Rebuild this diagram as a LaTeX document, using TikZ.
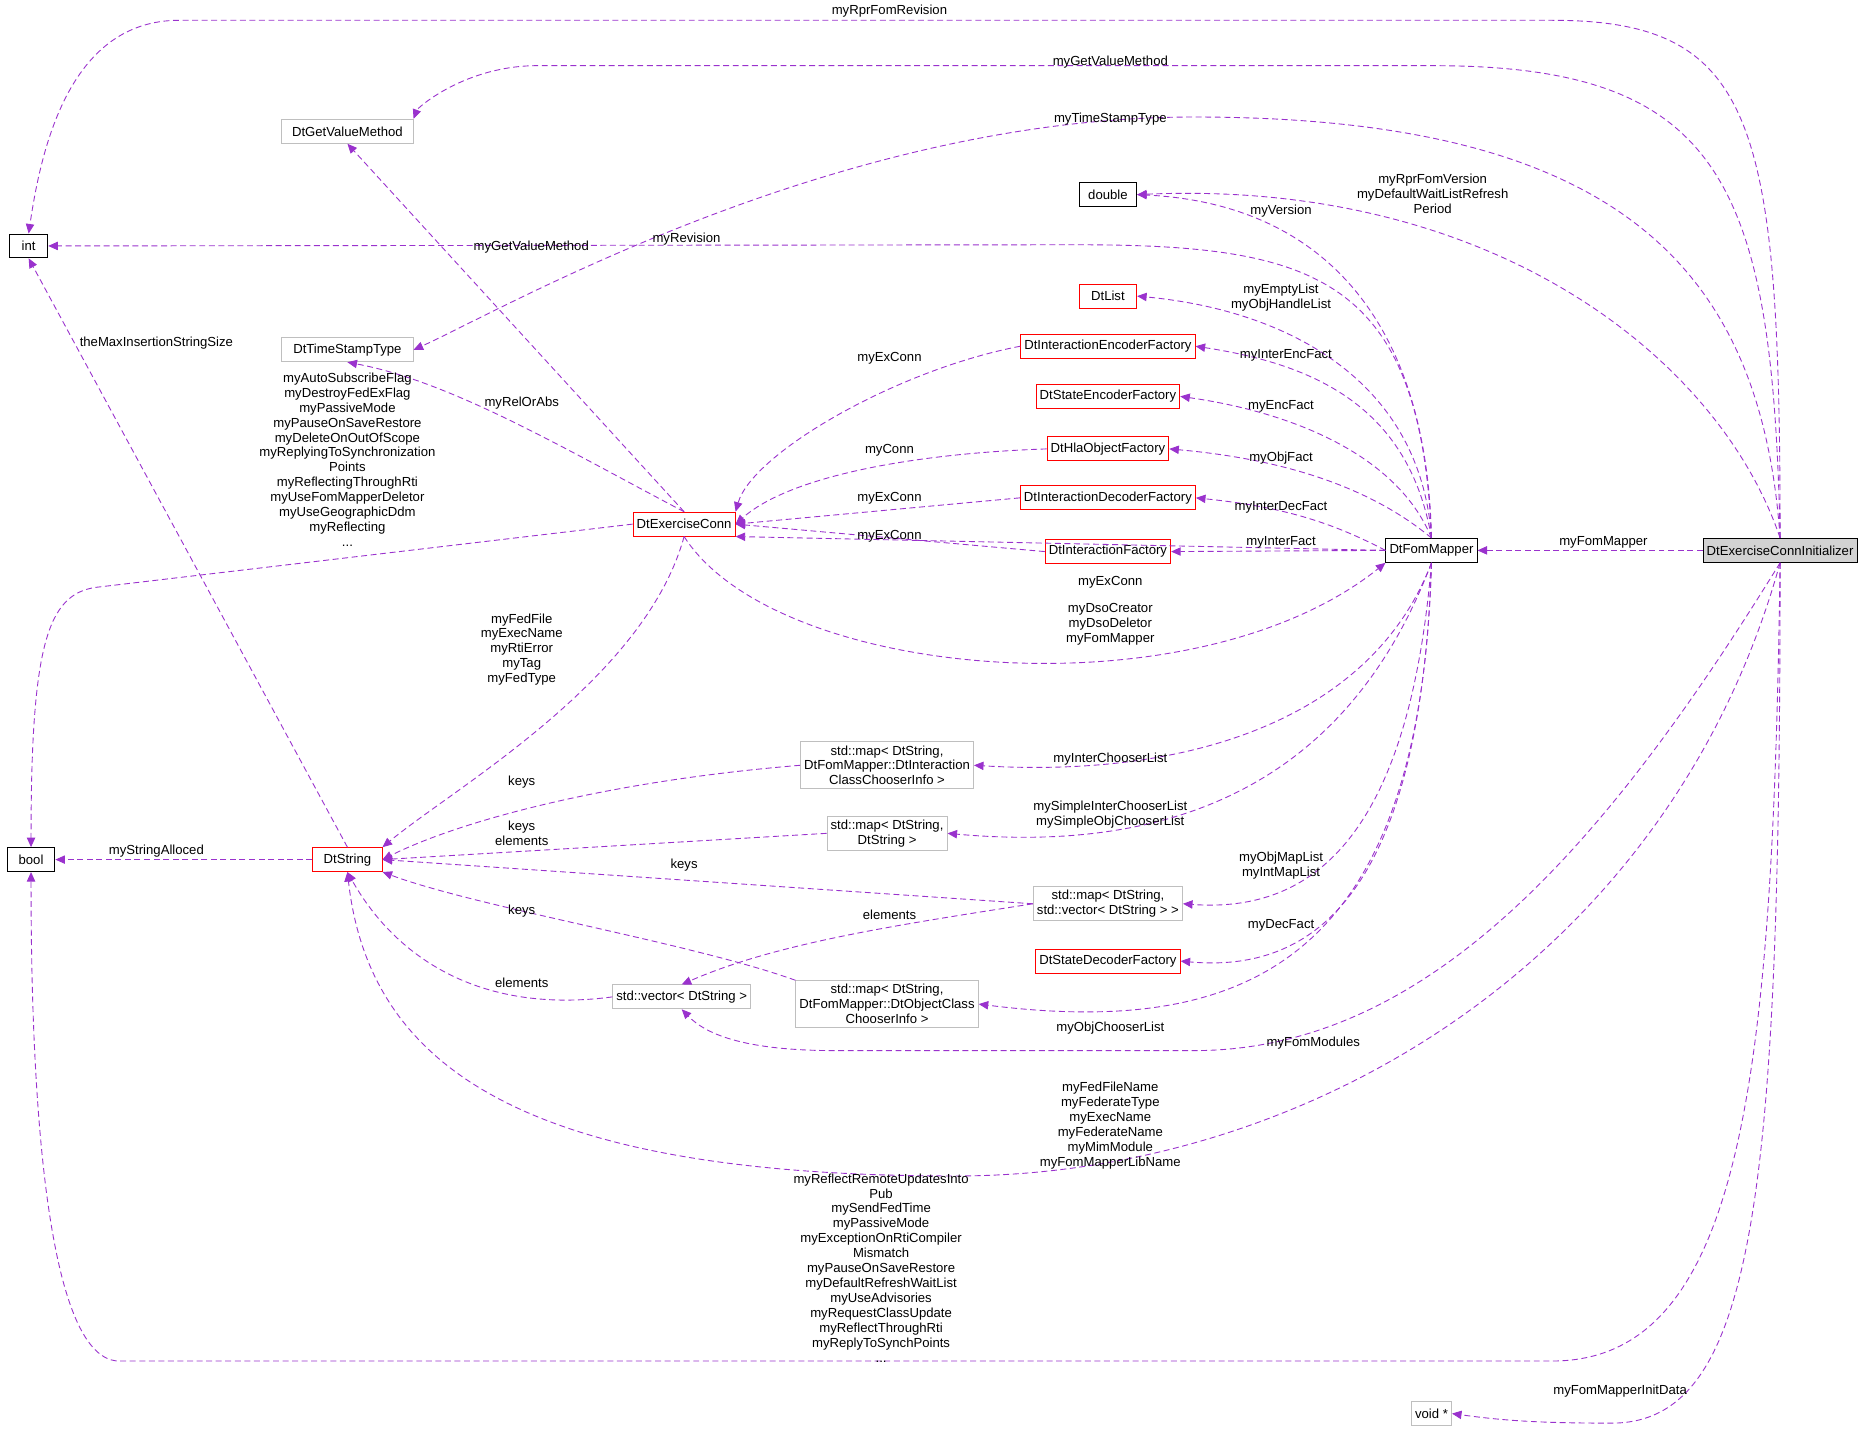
\documentclass[tikz,border=0pt]{standalone}
\usepackage{fontspec}
\setmainfont{Liberation Sans}
\usetikzlibrary{arrows.meta}
\definecolor{ed}{HTML}{9A32CD}
\definecolor{rb}{HTML}{FF0000}
\definecolor{gb}{HTML}{BFBFBF}
\begin{document}
\begin{tikzpicture}[x=1pt,y=-1pt,font=\fontsize{11}{12.5}\selectfont,
 box/.style={draw=black,fill=white,minimum height=20pt,inner sep=3pt,align=center,line width=0.8pt},
 rbox/.style={box,draw=rb},
 gbox/.style={box,draw=gb},
 lab/.style={inner sep=0pt,align=center},
 e/.style={draw=ed,line width=0.75pt,dashed,dash pattern=on 5pt off 3pt,-{Triangle[length=8pt,width=7pt]}}]
\useasboundingbox (0,0) rectangle (1568,1208);
\node[box,minimum width=32pt] (int) at (24,206) {int};
\node[box,minimum width=40pt] (bool) at (26,720) {bool};
\node[gbox,minimum width=110pt] (gvm) at (291,110) {DtGetValueMethod};
\node[box,minimum width=48pt] (dbl) at (928,163) {double};
\node[gbox,minimum width=110pt] (ts) at (291,293) {DtTimeStampType};
\node[rbox,minimum width=48pt] (dtl) at (928,248) {DtList};
\node[rbox] (ief) at (928,290) {DtInteractionEncoderFactory};
\node[rbox] (sef) at (928,332) {DtStateEncoderFactory};
\node[rbox] (hof) at (928,376) {DtHlaObjectFactory};
\node[rbox] (idf) at (928,417) {DtInteractionDecoderFactory};
\node[rbox] (iff) at (928,462) {DtInteractionFactory};
\node[rbox] (ec) at (573,439) {DtExerciseConn};
\node[box] (fm) at (1199,461) {DtFomMapper};
\node[box,fill=gb!70] (init) at (1491,461) {DtExerciseConnInitializer};
\node[gbox] (m1) at (743,641) {std::map\textless{} DtString,\\ DtFomMapper::DtInteraction\\ClassChooserInfo \textgreater{}};
\node[gbox] (m2) at (743,698) {std::map\textless{} DtString,\\ DtString \textgreater{}};
\node[gbox] (m3) at (928,757) {std::map\textless{} DtString,\\ std::vector\textless{} DtString \textgreater{} \textgreater{}};
\node[rbox] (sdf) at (928,805) {DtStateDecoderFactory};
\node[gbox] (vec) at (571,835) {std::vector\textless{} DtString \textgreater{}};
\node[gbox] (m4) at (743,841) {std::map\textless{} DtString,\\ DtFomMapper::DtObjectClass\\ChooserInfo \textgreater{}};
\node[rbox,minimum width=58pt] (str) at (291,720) {DtString};
\node[gbox] (vd) at (1199,1184) {void *};

% initializer edges
\draw[e] (init.north) .. controls (1491,100) and (1470,17) .. (1300,17) -- (150,17) .. controls (60,17) and (35,120) .. (int.north);
\draw[e] (init.north) .. controls (1485,150) and (1440,55) .. (1200,55) -- (450,55) .. controls (390,55) and (350,90) .. (gvm.north east);
\draw[e] (init.north) .. controls (1475,220) and (1350,98) .. (1000,98) .. controls (700,98) and (420,260) .. (ts.east);
\draw[e] (init.north) .. controls (1440,300) and (1250,150) .. (dbl.east);
\draw[e] (init.west) -- (fm.east);
\draw[e] (init.south) .. controls (1400,800) and (1100,985) .. (800,985) .. controls (450,985) and (310,900) .. (str.south);
\draw[e] (init.south) .. controls (1485,900) and (1460,1140) .. (1300,1140) -- (100,1140) .. controls (30,1140) and (26,850) .. (bool.south);
\draw[e] (init.south) .. controls (1491,1000) and (1470,1192) .. (1350,1192) .. controls (1290,1192) and (1260,1190) .. (vd.east);
\draw[e] (init.south) .. controls (1350,700) and (1200,880) .. (1000,880) -- (700,880) .. controls (620,880) and (590,865) .. (vec.south);
% fom mapper edges
\draw[e] (fm.north) .. controls (1190,230) and (1100,205) .. (900,205) -- (int.east);
\draw[e] (fm.north) .. controls (1195,260) and (1100,170) .. (dbl.east);
\draw[e] (fm.north) .. controls (1190,320) and (1080,260) .. (dtl.east);
\draw[e] (fm.north) .. controls (1180,340) and (1100,305) .. (ief.east);
\draw[e] (fm.north) .. controls (1170,380) and (1080,345) .. (sef.east);
\draw[e] (fm.north) .. controls (1150,410) and (1080,385) .. (hof.east);
\draw[e] (fm.west) .. controls (1120,440) and (1080,425) .. (idf.east);
\draw[e] (fm.west) -- (iff.east);
\draw[e] (fm.west) -- (ec.south east);
\draw[e] (ec.south) .. controls (650,570) and (1000,600) .. (fm.south west);
\draw[e] (fm.south) .. controls (1150,600) and (1000,652) .. (m1.east);
\draw[e] (fm.south) .. controls (1120,680) and (950,712) .. (m2.east);
\draw[e] (fm.south) .. controls (1180,700) and (1100,765) .. (m3.east);
\draw[e] (fm.south) .. controls (1190,750) and (1100,815) .. (sdf.east);
\draw[e] (fm.south) .. controls (1190,800) and (1050,870) .. (m4.east);
% factories to exercise conn
\draw[e] (ief.west) .. controls (750,310) and (630,380) .. (ec.north east);
\draw[e] (hof.west) .. controls (760,380) and (660,400) .. (ec.east);
\draw[e] (idf.west) -- (ec.east);
\draw[e] (iff.west) -- (ec.east);
% exercise conn edges
\draw[e] (ec.north) -- (gvm.south);
\draw[e] (ec.north) .. controls (480,380) and (380,320) .. (ts.south);
\draw[e] (ec.west) -- (80,492) .. controls (40,498) and (26,540) .. (bool.north);
\draw[e] (ec.south) .. controls (540,570) and (380,660) .. (str.north east);
% DtString
\draw[e] (str.north) -- (int.south);
\draw[e] (str.west) -- (bool.east);
\draw[e] (m1.west) .. controls (500,655) and (380,690) .. (str.east);
\draw[e] (m2.west) -- (str.east);
\draw[e] (m3.west) -- (str.east);
\draw[e] (m3.west) .. controls (750,775) and (650,790) .. (vec.north);
\draw[e] (m4.north west) .. controls (580,790) and (400,760) .. (str.south east);
\draw[e] (vec.west) .. controls (400,850) and (330,800) .. (str.south);

% labels
\node[lab] (l1) at (745,9) {myRprFomRevision};
\node[lab] (l2) at (930,52) {myGetValueMethod};
\node[lab] (l3) at (930,100) {myTimeStampType};
\node[lab] (l4) at (1200,162) {myRprFomVersion\\myDefaultWaitListRefresh\\Period};
\node[lab] (l5) at (1343,454) {myFomMapper};
\node[lab] (l6) at (930,943) {myFedFileName\\myFederateType\\myExecName\\myFederateName\\myMimModule\\myFomMapperLibName};
\node[lab] (l7) at (738,1062) {myReflectRemoteUpdatesInto\\Pub\\mySendFedTime\\myPassiveMode\\myExceptionOnRtiCompiler\\Mismatch\\myPauseOnSaveRestore\\myDefaultRefreshWaitList\\myUseAdvisories\\myRequestClassUpdate\\myReflectThroughRti\\myReplyToSynchPoints\\...};
\node[lab] (l8) at (1357,1165) {myFomMapperInitData};
\node[lab] (l9) at (1100,874) {myFomModules};
\node[lab] (l10) at (575,200) {myRevision};
\node[lab] (l11) at (1073,177) {myVersion};
\node[lab] (l12) at (1073,249) {myEmptyList\\myObjHandleList};
\node[lab] (l13) at (1077,298) {myInterEncFact};
\node[lab] (l14) at (1073,340) {myEncFact};
\node[lab] (l15) at (1073,384) {myObjFact};
\node[lab] (l16) at (1073,425) {myInterDecFact};
\node[lab] (l17) at (1073,454) {myInterFact};
\node[lab] (l18) at (930,488) {myExConn};
\node[lab] (l19) at (930,523) {myDsoCreator\\myDsoDeletor\\myFomMapper};
\node[lab] (l20) at (930,636) {myInterChooserList};
\node[lab] (l21) at (930,682) {mySimpleInterChooserList\\mySimpleObjChooserList};
\node[lab] (l22) at (1073,725) {myObjMapList\\myIntMapList};
\node[lab] (l23) at (1073,775) {myDecFact};
\node[lab] (l24) at (930,861) {myObjChooserList};
\node[lab] (l25) at (745,300) {myExConn};
\node[lab] (l26) at (745,377) {myConn};
\node[lab] (l27) at (745,417) {myExConn};
\node[lab] (l28) at (745,449) {myExConn};
\node[lab] (l29) at (445,207) {myGetValueMethod};
\node[lab] (l30) at (437,338) {myRelOrAbs};
\node[lab] (l31) at (291,385) {myAutoSubscribeFlag\\myDestroyFedExFlag\\myPassiveMode\\myPauseOnSaveRestore\\myDeleteOnOutOfScope\\myReplyingToSynchronization\\Points\\myReflectingThroughRti\\myUseFomMapperDeletor\\myUseGeographicDdm\\myReflecting\\...};
\node[lab] (l32) at (437,544) {myFedFile\\myExecName\\myRtiError\\myTag\\myFedType};
\node[lab] (l33) at (131,287) {theMaxInsertionStringSize};
\node[lab] (l34) at (131,713) {myStringAlloced};
\node[lab] (l35) at (437,655) {keys};
\node[lab] (l36) at (437,698) {keys\\elements};
\node[lab] (l37) at (573,725) {keys};
\node[lab] (l38) at (745,766) {elements};
\node[lab] (l39) at (437,763) {keys};
\node[lab] (l40) at (437,823) {elements};
\end{tikzpicture}
\end{document}
